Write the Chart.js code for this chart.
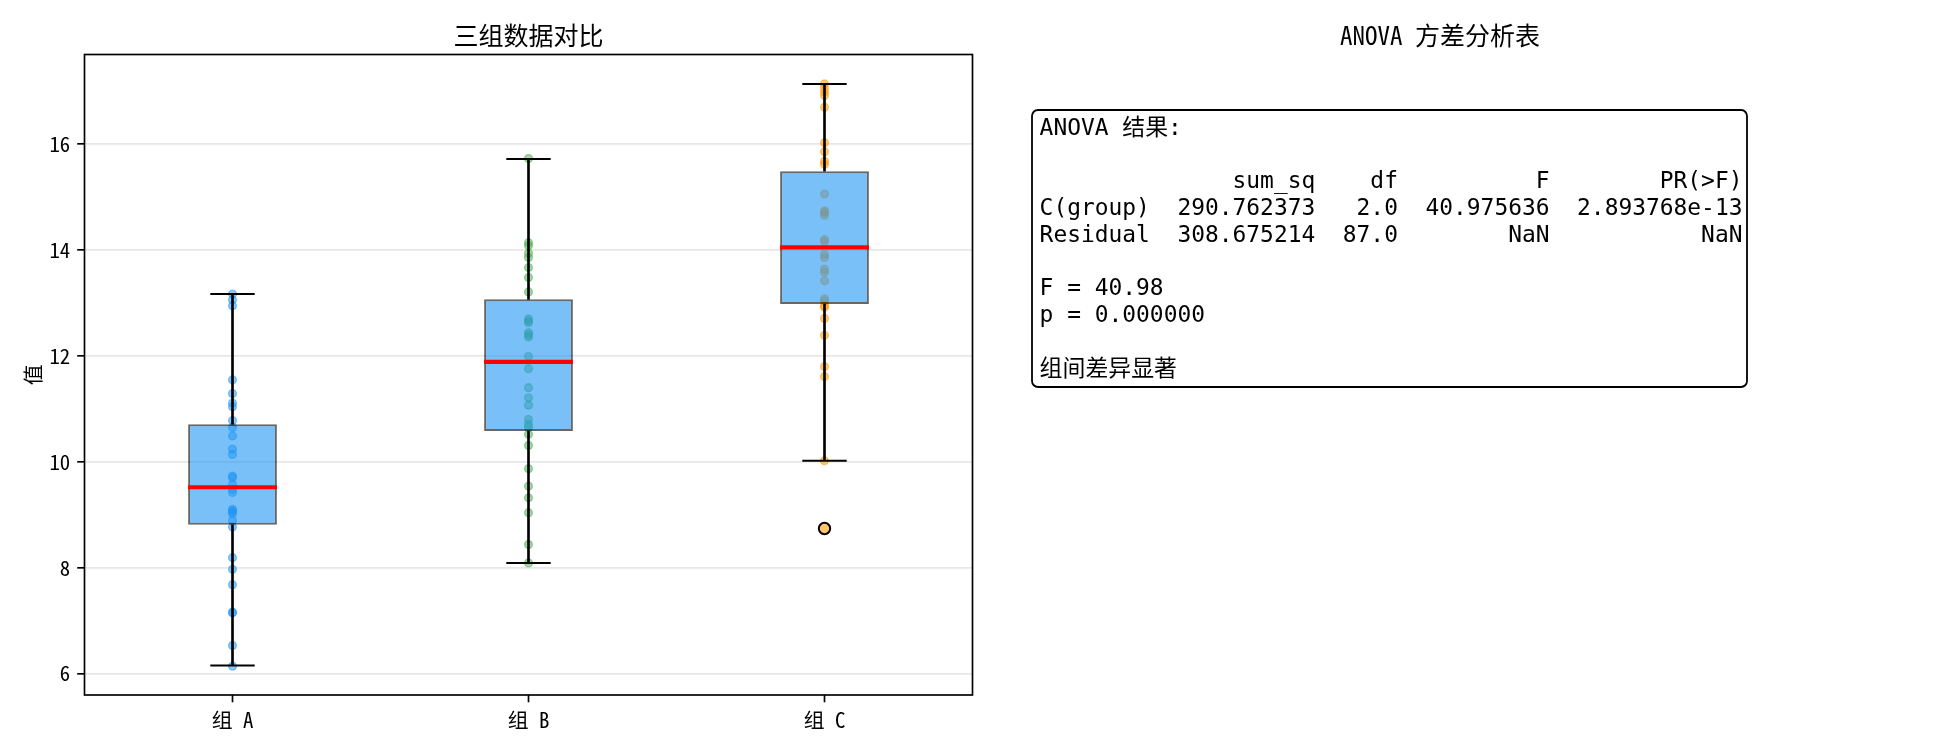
<!DOCTYPE html>
<html><head><meta charset="utf-8">
<script src="https://cdn.jsdelivr.net/npm/chart.js@4.4.1/dist/chart.umd.min.js"></script>
<style>
html,body{margin:0;padding:0;background:#fff;width:1950px;height:750px;overflow:hidden}
#left{position:absolute;left:0;top:0;width:1000px;height:750px}
#right{position:absolute;left:1000px;top:0;width:950px;height:750px}
</style></head><body>
<div id="left"><canvas id="c1"></canvas></div>
<div id="right"><canvas id="c2"></canvas></div>
<script>
// ---------- data ----------
const categories = ['组 A', '组 B', '组 C'];
const groupA = [13.17, 13.06, 12.95, 11.55, 11.29, 11.11, 11.04, 10.78, 10.65, 10.49, 10.24, 10.14, 9.73, 9.70, 9.57, 9.48, 9.42, 9.10, 9.08, 9.05, 9.02, 8.89, 8.77, 8.19, 7.97, 7.68, 7.16, 7.15, 6.53, 6.14];
const groupB = [15.73, 14.14, 14.08, 13.94, 13.86, 13.67, 13.48, 13.21, 12.70, 12.66, 12.63, 12.44, 12.40, 12.36, 11.99, 11.76, 11.40, 11.21, 11.07, 10.80, 10.71, 10.65, 10.52, 10.31, 9.87, 9.54, 9.32, 9.04, 8.44, 8.09];
const groupC = [17.14, 17.06, 16.99, 16.92, 16.70, 16.03, 15.86, 15.68, 15.62, 15.06, 14.74, 14.71, 14.66, 14.20, 14.16, 13.92, 13.86, 13.64, 13.58, 13.42, 13.08, 13.04, 12.95, 12.92, 12.71, 12.39, 11.80, 11.61, 10.02, 8.74];
const q1 = [8.81, 10.58, 12.98];
const medians = [9.52, 11.89, 14.05];
const q3 = [10.71, 13.07, 15.49];
const whiskerLow = [6.15, 8.09, 10.02];
const whiskerHigh = [13.17, 15.72, 17.14];
const fliers = [[], [], [8.74]];
const yTicks = [6, 8, 10, 12, 14, 16];
const yRange = [5.595, 17.695];

const anovaTerms = ['C(group)', 'Residual'];
const anovaSumSq = [290.762373, 308.675214];
const anovaDf = [2.0, 87.0];
const anovaF = [40.975636, NaN];
const anovaP = [2.893768e-13, NaN];
const anovaHeader = ['sum_sq', 'df', 'F', 'PR(>F)'];

// ---------- styles ----------
const CJK = '"Noto Sans Mono CJK SC","Noto Sans CJK SC","Noto Sans CJK JP",sans-serif';
const MONO = '"DejaVu Sans Mono","Noto Sans Mono CJK SC","Noto Sans CJK SC",monospace';
const groups = [groupA, groupB, groupC];
const pointColors = ['33,150,243', '76,175,80', '255,152,0'];

const pointSets = groups.map((g, i) => ({
  type: 'line', showLine: false, order: 10 + i,
  data: g.map(v => ({x: categories[i], y: v})),
  pointRadius: 3.9, pointBorderWidth: 1.4,
  pointBackgroundColor: 'rgba(' + pointColors[i] + ',0.5)',
  pointBorderColor: 'rgba(' + pointColors[i] + ',0.5)'
}));

const datasets = [
  ...pointSets,
  { type: 'bar', order: 6, grouped: false,
    data: categories.map((c, i) => [q1[i], q3[i]]),
    backgroundColor: 'rgba(33,150,243,0.6)', borderColor: 'rgba(0,0,0,0.6)',
    borderWidth: 2, borderSkipped: false, barPercentage: 0.3, categoryPercentage: 1.0 },
  { type: 'bar', order: 5, grouped: false,
    data: categories.map((c, i) => [q3[i], whiskerHigh[i]]),
    backgroundColor: '#000', borderWidth: 0, barThickness: 2 },
  { type: 'bar', order: 5, grouped: false,
    data: categories.map((c, i) => [whiskerLow[i], q1[i]]),
    backgroundColor: '#000', borderWidth: 0, barThickness: 2 },
  { type: 'line', showLine: false, order: 4,
    data: categories.flatMap((c, i) => [{x: c, y: whiskerHigh[i]}, {x: c, y: whiskerLow[i]}]),
    pointStyle: 'line', pointRadius: 22.2, pointBorderWidth: 2, pointBorderColor: '#000' },
  { type: 'line', showLine: false, order: 3,
    data: categories.map((c, i) => ({x: c, y: medians[i]})),
    pointStyle: 'line', pointRadius: 44.4, pointBorderWidth: 4.2, pointBorderColor: '#ff0000' },
  { type: 'line', showLine: false, order: 2,
    data: categories.flatMap((c, i) => fliers[i].map(v => ({x: c, y: v}))),
    pointRadius: 5.7, pointBorderWidth: 2, pointBackgroundColor: '#ffc46e', pointBorderColor: '#000' }
];

const framePlugin = {
  id: 'frame',
  afterDraw(chart) {
    const a = chart.chartArea, ctx = chart.ctx;
    ctx.save();
    ctx.strokeStyle = '#000';
    ctx.lineWidth = 1.67;
    ctx.strokeRect(a.left, a.top, a.right - a.left, a.bottom - a.top);
    ctx.restore();
  }
};

new Chart(document.getElementById('c1'), {
  type: 'bar',
  data: { labels: categories, datasets },
  options: {
    responsive: true, maintainAspectRatio: false, animation: false, events: [],
    layout: { autoPadding: false, padding: { left: 0, right: 27.5, top: 0, bottom: 0 } },
    plugins: {
      legend: { display: false }, tooltip: { enabled: false },
      title: { display: true, fullSize: false, text: '三组数据对比', color: '#000',
        font: { family: CJK, size: 25, weight: 'normal', lineHeight: 1.2 },
        padding: { top: 20, bottom: 4.5 } }
    },
    scales: {
      x: { type: 'category', offset: true,
        grid: { offset: false, drawOnChartArea: false, tickLength: 7.3, tickColor: '#000', tickWidth: 1.67 },
        border: { display: false },
        ticks: { color: '#000', font: { family: CJK, size: 20.8 }, padding: 5, maxRotation: 0, autoSkip: false },
        afterFit: s => { s.height = 55; s.paddingLeft = 0; s.paddingRight = 0; } },
      y: { type: 'linear', min: yRange[0], max: yRange[1],
        afterBuildTicks: s => { s.ticks = yTicks.map(v => ({ value: v })); },
        grid: { color: '#e7e7e7', lineWidth: 1.67, tickLength: 7.3, tickColor: '#000', tickWidth: 1.67 },
        border: { display: false },
        ticks: { color: '#000', font: { family: CJK, size: 20.8 }, padding: 7 },
        title: { display: true, text: '值', color: '#000', font: { family: CJK, size: 20.8 }, padding: { top: 20.5, bottom: 0 } },
        afterFit: s => { s.width = 84.5; s.paddingTop = 0; s.paddingBottom = 0; } }
    }
  },
  plugins: [framePlugin]
});

// ---------- ANOVA text panel ----------
function fmtNum(v, f) { return isNaN(v) ? 'NaN' : f(v); }
const anovaLines = [
  'ANOVA 结果:',
  '',
  ''.padEnd(8) + anovaHeader[0].padStart(12) + anovaHeader[1].padStart(6) + anovaHeader[2].padStart(11) + anovaHeader[3].padStart(14),
  ...anovaTerms.map((t, i) =>
    t.padEnd(8) +
    fmtNum(anovaSumSq[i], v => v.toFixed(6)).padStart(12) +
    fmtNum(anovaDf[i], v => v.toFixed(1)).padStart(6) +
    fmtNum(anovaF[i], v => v.toFixed(6)).padStart(11) +
    fmtNum(anovaP[i], v => v.toExponential(6)).padStart(14)),
  '',
  'F = ' + anovaF[0].toFixed(2),
  'p = ' + anovaP[0].toFixed(6),
  '',
  '组间差异显著'
];

const anovaPlugin = {
  id: 'anovaBox',
  afterDraw(chart) {
    const ctx = chart.ctx;
    ctx.save();
    const bx = 32, by = 110, bw = 715, bh = 277, r = 6;
    ctx.beginPath();
    ctx.roundRect(bx, by, bw, bh, r);
    ctx.fillStyle = '#fff';
    ctx.fill();
    ctx.strokeStyle = '#000';
    ctx.lineWidth = 1.8;
    ctx.stroke();
    ctx.fillStyle = '#000';
    ctx.font = '22.9px ' + MONO;
    ctx.textBaseline = 'middle';
    ctx.textAlign = 'left';
    anovaLines.forEach((ln, i) => { if (ln) ctx.fillText(ln, 39.6, 129 + i * 26.75); });
    ctx.restore();
  }
};

new Chart(document.getElementById('c2'), {
  type: 'bar',
  data: { labels: [], datasets: [] },
  options: {
    responsive: true, maintainAspectRatio: false, animation: false, events: [],
    layout: { padding: { left: 0, right: 70, top: 0, bottom: 0 } },
    plugins: {
      legend: { display: false }, tooltip: { enabled: false },
      title: { display: true, text: 'ANOVA 方差分析表', color: '#000',
        font: { family: CJK, size: 25, weight: 'normal', lineHeight: 1.2 },
        padding: { top: 20, bottom: 4.5 } }
    },
    scales: { x: { display: false }, y: { display: false } }
  },
  plugins: [anovaPlugin]
});
</script>
</body></html>
